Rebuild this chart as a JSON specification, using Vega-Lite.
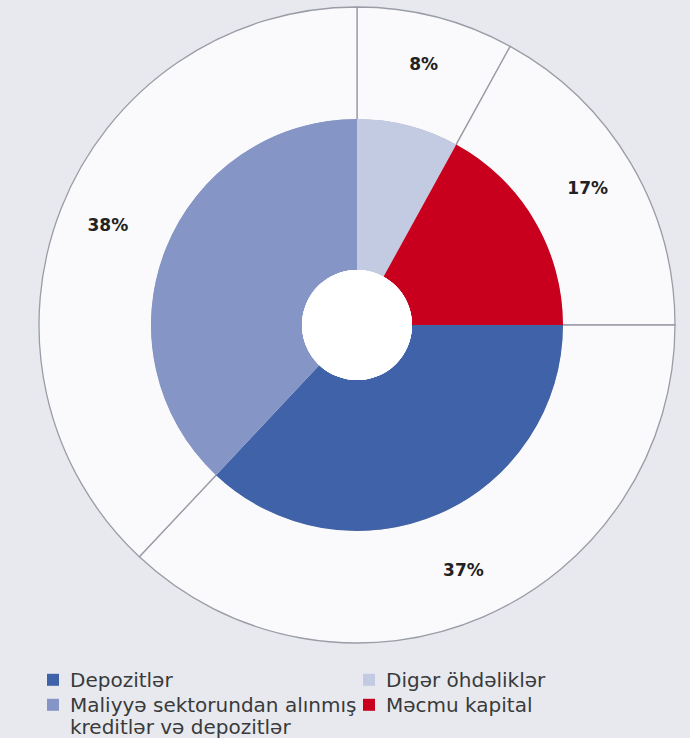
{
  "$schema": "https://vega.github.io/schema/vega-lite/v6.json",
  "width": 714,
  "height": 650,
  "padding": 0,
  "autosize": {"type": "pad"},
  "background": "#e7e9ef",
  "config": {"view": {"stroke": null}},
  "data": {
    "values": [
      {"category": "Digər öhdəliklər", "share": 8, "label": "8%", "ord": 1},
      {"category": "Məcmu kapital", "share": 17, "label": "17%", "ord": 2},
      {"category": "Depozitlər", "share": 37, "label": "37%", "ord": 3},
      {"category": "Maliyyə sektorundan alınmış kreditlər və depozitlər", "share": 38, "label": "38%", "ord": 4}
    ]
  },
  "encoding": {
    "theta": {"field": "share", "type": "quantitative", "stack": true},
    "order": {"field": "ord", "type": "quantitative"}
  },
  "layer": [
    {
      "mark": {"type": "arc", "innerRadius": 205, "outerRadius": 318, "fill": "#fafafc", "stroke": "#9a9ca6", "strokeWidth": 1.3}
    },
    {
      "mark": {"type": "arc", "innerRadius": 55, "outerRadius": 206},
      "encoding": {
        "color": {
          "field": "category",
          "type": "nominal",
          "scale": {
            "domain": ["Depozitlər", "Maliyyə sektorundan alınmış kreditlər və depozitlər", "Digər öhdəliklər", "Məcmu kapital"],
            "range": ["#4062a8", "#8595c5", "#c3cbe3", "#c8001e"]
          },
          "legend": {
            "orient": "none",
            "legendX": 43,
            "legendY": 677,
            "title": null,
            "columns": 2,
            "columnPadding": 2,
            "rowPadding": 5,
            "padding": 0,
            "symbolType": "M-1,-2.2H1V-0.2H-1Z",
            "symbolSize": 144,
            "symbolStrokeWidth": 0,
            "labelFont": "DejaVu Sans",
            "labelFontSize": 20,
            "labelBaseline": "alphabetic",
            "labelColor": "#3a3a3a",
            "labelOffset": 7,
            "labelLimit": 500,
            "labelExpr": "datum.label == 'Maliyyə sektorundan alınmış kreditlər və depozitlər' ? ['Maliyyə sektorundan alınmış', 'kreditlər və depozitlər'] : datum.label"
          }
        }
      }
    },
    {
      "mark": {"type": "arc", "innerRadius": 0, "outerRadius": 55, "theta": 0, "theta2": 6.2832, "fill": "#ffffff"},
      "encoding": {"theta": null, "order": null}
    },
    {
      "mark": {"type": "text", "radius": 268, "font": "DejaVu Sans", "fontSize": 17, "fontWeight": "bold", "fill": "#222222"},
      "encoding": {"text": {"field": "label"}}
    }
  ]
}
